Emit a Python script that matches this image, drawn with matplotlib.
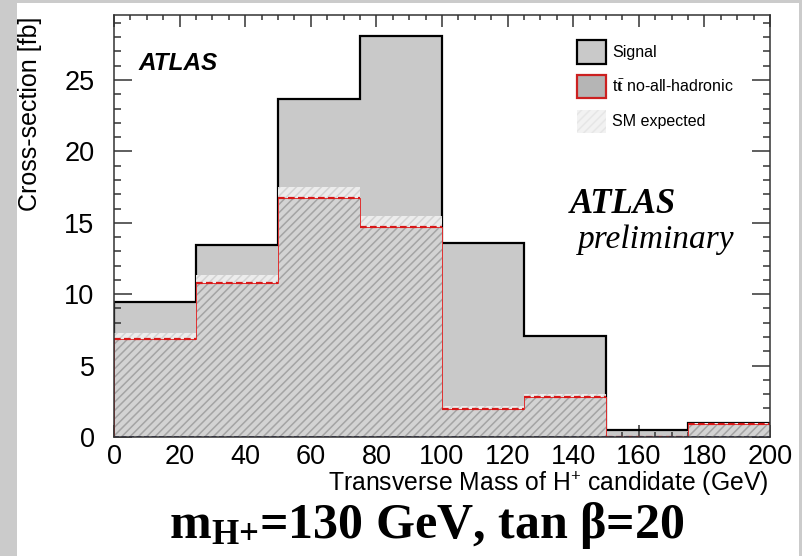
import numpy as np
import matplotlib
matplotlib.use("Agg")
import matplotlib.pyplot as plt
from matplotlib.patches import Patch, Rectangle
from matplotlib.ticker import MultipleLocator

# transverse mass bins (GeV) and cross-sections (fb)
edges = [0, 25, 50, 75, 100, 125, 150, 175, 200]
signal = [9.48, 13.45, 23.67, 28.08, 13.58, 7.07, 0.49, 0.95]
ttbar = [6.86, 10.8, 16.76, 14.73, 1.94, 2.82, 0.0, 0.9]
sm_expected = [7.28, 11.34, 17.5, 15.48, 2.2, 3.0, 0.0, 0.98]
other = [0, 0, 0, 0, 0, 0, 0, 0]

plt.rcParams['font.family'] = ['Liberation Sans', 'DejaVu Sans']
plt.rcParams['hatch.linewidth'] = 1.1
plt.rcParams['mathtext.fontset'] = 'custom'
plt.rcParams['mathtext.bf'] = 'Liberation Serif:bold'
plt.rcParams['mathtext.rm'] = 'Liberation Serif:bold'
plt.rcParams['mathtext.it'] = 'Liberation Serif:bold'

fig = plt.figure(figsize=(8.03, 5.56), dpi=100)
fig.patch.set_facecolor('#cbcbcb')
fig.patches.append(Rectangle((17 / 803, 0), 782 / 803, 553 / 556,
                             transform=fig.transFigure, facecolor='white',
                             edgecolor='none', zorder=-10))

ax = fig.add_axes([114 / 803, 1 - 437 / 556, 656 / 803, 422 / 556])
ax.set_facecolor('white')

# signal on top of everything, grey with black outline
ax.stairs(signal, edges, fill=True, facecolor='#c9c9c9', edgecolor='none', zorder=1)
ax.stairs(signal, edges, color='black', lw=1.6, zorder=2)

# SM expectation band and ttbar background, both hatched
ax.stairs(sm_expected, edges, fill=True, facecolor='#ececec', edgecolor='#d3d3d3',
          hatch='////', lw=0, zorder=3)
ax.stairs(ttbar, edges, fill=True, facecolor='#d3d3d3', edgecolor='#a4a4a4',
          hatch='////', lw=0, zorder=4)
ax.stairs(ttbar, edges, color='#e03030', lw=0.7, zorder=5)
ax.hlines(ttbar, edges[:-1], edges[1:], colors='#d81818', lw=1.6,
          linestyles=(0, (3, 1.5)), zorder=6)
ax.stairs(other, edges, color='#2a2a70', lw=1.2, linestyle=(0, (3, 1.5)), zorder=6)

ax.set_xlim(0, 200)
ax.set_ylim(0, 29.55)
ax.xaxis.set_major_locator(MultipleLocator(20))
ax.xaxis.set_minor_locator(MultipleLocator(5))
ax.yaxis.set_major_locator(MultipleLocator(5))
ax.yaxis.set_minor_locator(MultipleLocator(1))
ax.tick_params(which='both', direction='in', top=True, right=True,
               labelsize=19.5, width=1.1, color='#333333')
ax.tick_params(axis='y', which='major', length=13, pad=14)
ax.tick_params(axis='y', which='minor', length=4.8)
ax.tick_params(axis='x', which='major', length=8.6, pad=5)
ax.tick_params(axis='x', which='minor', length=3.6)
for s in ax.spines.values():
    s.set_linewidth(1.1)
    s.set_color('#333333')
    s.set_zorder(10)

handles = [
    Patch(facecolor='#c9c9c9', edgecolor='black', lw=1.6, label='Signal'),
    Patch(facecolor='#b5b5b5', edgecolor='#cc2020', lw=1.6,
          label=r't$\bar{\rm t}$ no-all-hadronic'),
    Patch(facecolor='#f2f2f2', edgecolor='#e6e6e6', hatch='////', lw=0,
          label='SM expected'),
]
leg = ax.legend(handles=handles, loc='upper left', bbox_to_anchor=(0.706, 0.941),
                frameon=False, fontsize=11.5, borderpad=0, borderaxespad=0,
                handlelength=1.8, handleheight=1.9, labelspacing=0.7,
                handletextpad=0.4)

ax.text(0.037, 0.87, 'ATLAS', transform=ax.transAxes, fontsize=17.5,
        fontweight='bold', fontstyle='italic', va='baseline')
ax.text(0.695, 0.531, 'ATLAS', transform=ax.transAxes, fontsize=25,
        family='Liberation Serif', fontweight='bold', fontstyle='italic',
        va='baseline')
ax.text(0.707, 0.448, 'preliminary', transform=ax.transAxes, fontsize=24,
        family='Liberation Serif', fontstyle='italic', va='baseline')

fig.text(30 / 803, 1 - 17 / 556, 'Cross-section [fb]', rotation=90,
         ha='center', va='top', fontsize=18)
fig.text(768 / 803, 1 - 490 / 556, r'Transverse Mass of H$^{+}$ candidate (GeV)',
         ha='right', va='baseline', fontsize=17.8)
fig.text(427 / 803, 1 - 538 / 556, r'$\mathbf{m_{H{+}}}$=130 GeV, tan β=20',
         ha='center', va='baseline', fontsize=36, family='Liberation Serif',
         fontweight='bold')

fig.savefig('out.png', dpi=100, facecolor=fig.get_facecolor())
